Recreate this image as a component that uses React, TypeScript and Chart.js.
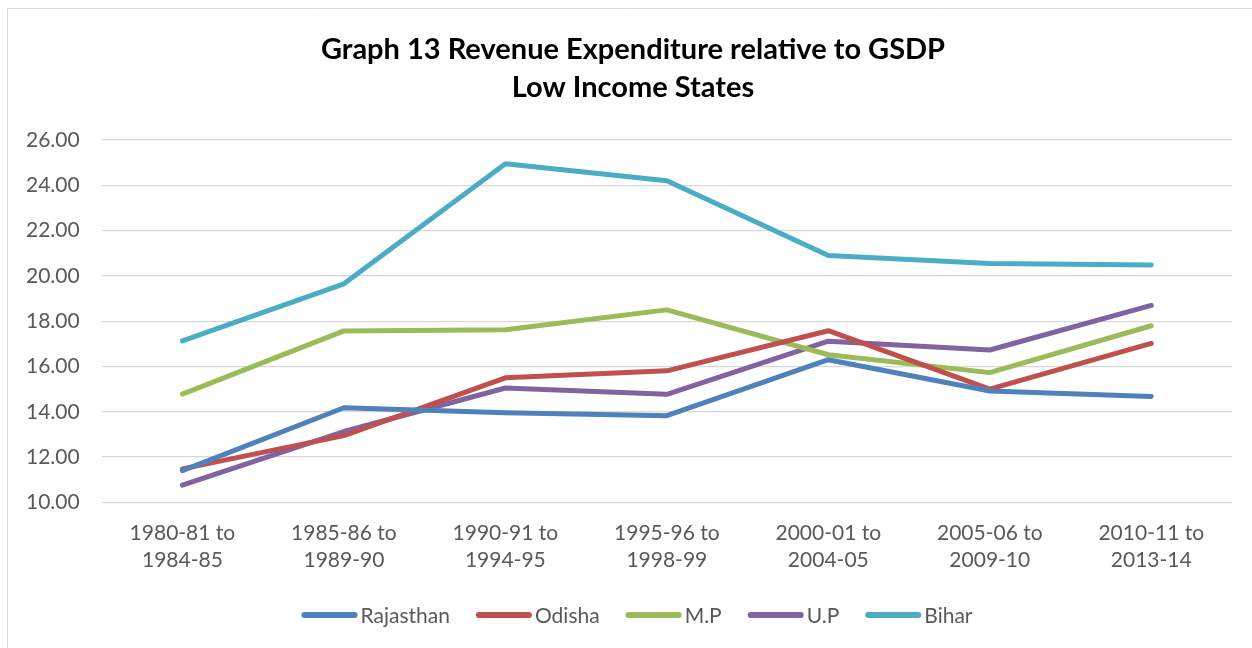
import React, { useEffect, useRef } from "react";
import { Chart, registerables } from "chart.js";

Chart.register(...registerables);

const categories: string[][] = [
  ["1980-81 to", "1984-85"],
  ["1985-86 to", "1989-90"],
  ["1990-91 to", "1994-95"],
  ["1995-96 to", "1998-99"],
  ["2000-01 to", "2004-05"],
  ["2005-06 to", "2009-10"],
  ["2010-11 to", "2013-14"],
];

const rajasthan = [11.4, 14.18, 13.96, 13.83, 16.3, 14.92, 14.68];
const odisha = [11.48, 12.95, 15.5, 15.81, 17.58, 15.0, 17.02];
const mp = [14.78, 17.57, 17.62, 18.5, 16.52, 15.73, 17.8];
const up = [10.76, 13.13, 15.05, 14.77, 17.12, 16.73, 18.7];
const bihar = [17.13, 19.65, 24.95, 24.2, 20.9, 20.55, 20.48];

const seriesNames = ["Rajasthan", "Odisha", "M.P", "U.P", "Bihar"];
const seriesColors = ["#4F81BD", "#C0504D", "#9BBB59", "#8064A2", "#4BACC6"];
const seriesValues = [rajasthan, odisha, mp, up, bihar];

const titleLines = ["Graph 13 Revenue Expenditure relative to GSDP", "Low Income States"];

const FONT = "Lato, 'Open Sans', sans-serif";

const decorPlugin = {
  id: "decor",
  afterDraw(chart: any) {
    const ctx = chart.ctx as CanvasRenderingContext2D;
    ctx.save();
    // outer frame
    ctx.strokeStyle = "#d9d9d9";
    ctx.lineWidth = 1;
    ctx.beginPath();
    ctx.moveTo(7.5, 700);
    ctx.lineTo(7.5, 8.5);
    ctx.lineTo(1300, 8.5);
    ctx.stroke();
    // title
    ctx.fillStyle = "#000000";
    ctx.font = `bold 29px ${FONT}`;
    ctx.textAlign = "center";
    ctx.textBaseline = "middle";
    ctx.fillText(titleLines[0], 633, 50);
    ctx.fillText(titleLines[1], 633, 88);
    // legend
    ctx.font = `21px ${FONT}`;
    ctx.textAlign = "left";
    const lineLen = 56;
    const gapText = 3;
    const gapItem = 26;
    const widths = chart.data.datasets.map(
      (d: any) => lineLen + gapText + ctx.measureText(d.label).width
    );
    const total = widths.reduce((a: number, b: number) => a + b, 0) + gapItem * (widths.length - 1);
    let x = 637 - total / 2;
    const y = 615;
    chart.data.datasets.forEach((d: any, i: number) => {
      ctx.strokeStyle = d.borderColor;
      ctx.lineWidth = 6;
      ctx.lineCap = "round";
      ctx.beginPath();
      ctx.moveTo(x + 3, y);
      ctx.lineTo(x + lineLen - 3, y);
      ctx.stroke();
      ctx.fillStyle = "#595959";
      ctx.fillText(d.label, x + lineLen + gapText, y + 1);
      x += widths[i] + gapItem;
    });
    ctx.restore();
  },
};

export default function App() {
  const ref = useRef<HTMLCanvasElement>(null);
  useEffect(() => {
    if (!ref.current) return;
    const chart = new Chart(ref.current, {
      type: "line",
      data: {
        labels: categories,
        datasets: seriesNames.map((name, i) => ({
          label: name,
          data: seriesValues[i],
          borderColor: seriesColors[i],
          backgroundColor: seriesColors[i],
          borderWidth: 5,
          pointRadius: 0,
          pointHoverRadius: 0,
          borderCapStyle: "round" as const,
          borderJoinStyle: "round" as const,
          tension: 0,
          fill: false,
        })),
      },
      options: {
        animation: false,
        responsive: false,
        maintainAspectRatio: false,
        devicePixelRatio: 1,
        layout: { padding: { top: 140, left: 4, right: 20, bottom: 65 } },
        plugins: {
          legend: { display: false },
          title: { display: false },
          tooltip: { enabled: false },
        },
        scales: {
          x: {
            offset: true,
            grid: { display: false },
            border: { display: false },
            ticks: {
              color: "#595959",
              font: { family: FONT, size: 21, lineHeight: 1.3 },
              padding: 9,
              maxRotation: 0,
              autoSkip: false,
            },
          },
          y: {
            min: 10,
            max: 26,
            grid: { color: "#d9d9d9", lineWidth: 1.3, drawTicks: false },
            border: { display: false },
            ticks: {
              stepSize: 2,
              color: "#595959",
              font: { family: FONT, size: 21 },
              padding: 22,
              callback: (v: any) => Number(v).toFixed(2),
            },
          },
        },
      },
      plugins: [decorPlugin],
    });
    return () => chart.destroy();
  }, []);
  return (
    <div style={{ position: "absolute", left: 0, top: 0, width: 1252, height: 648, background: "#fff" }}>
      <canvas ref={ref} width={1252} height={648} style={{ display: "block" }} />
    </div>
  );
}
